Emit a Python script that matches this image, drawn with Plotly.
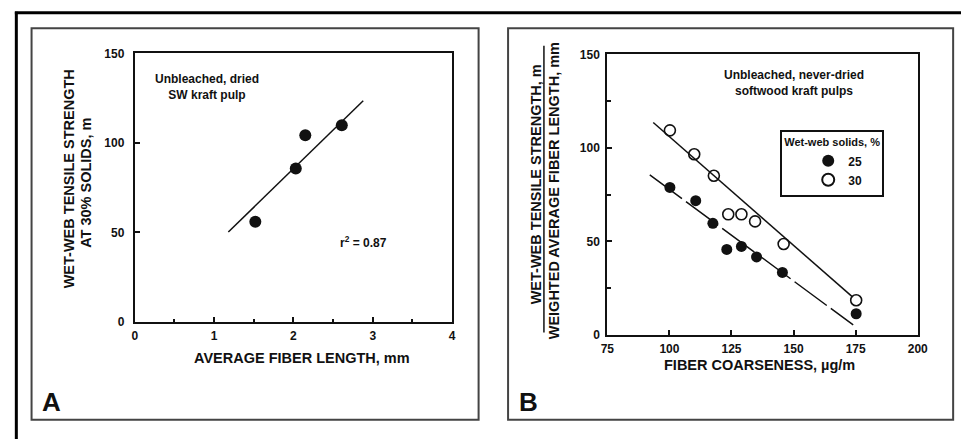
import plotly.graph_objects as go

# ---- Panel A: wet-web tensile strength vs. average fiber length ----
a_fiber_length = [1.52, 2.03, 2.15, 2.61]
a_tensile = [55.9, 85.7, 104.3, 109.9]
a_fit_x = [1.18, 2.88]
a_fit_y = [50.2, 123.6]

# ---- Panel B: normalized wet-web tensile vs. fiber coarseness ----
b_coarse_25 = [100.2, 110.6, 117.5, 123.1, 129.0, 135.1, 145.5, 175.2]
b_tensile_25 = [78.9, 71.8, 59.7, 45.7, 47.3, 41.7, 33.4, 11.3]
b_coarse_30 = [100.2, 110.0, 117.9, 123.7, 129.0, 134.5, 146.0, 175.2]
b_tensile_30 = [109.4, 96.6, 85.1, 64.5, 64.5, 60.7, 48.6, 18.5]
b_fit25_x = [92.1, 174.0]
b_fit25_y = [85.6, 5.3]
b_fit30_x = [93.5, 173.7]
b_fit30_y = [113.6, 20.3]

a_xticks = [0, 1, 2, 3, 4]
a_yticks = [0, 50, 100, 150]
b_xticks = [75, 100, 125, 150, 175, 200]
b_yticks = [0, 50, 100, 150]

W, H = 971, 446
FONT = "Liberation Sans, Arial, Helvetica, sans-serif"
INK = "#111111"


def px(x):
    return x / W


def py(y):
    return 1 - y / H


fig = go.Figure()

# Panel A
fig.add_trace(go.Scatter(x=a_fit_x, y=a_fit_y, mode="lines",
                         line=dict(color=INK, width=1.5),
                         xaxis="x", yaxis="y", showlegend=False, hoverinfo="skip"))
fig.add_trace(go.Scatter(x=a_fiber_length, y=a_tensile, mode="markers",
                         marker=dict(symbol="circle", size=12, color=INK),
                         xaxis="x", yaxis="y", showlegend=False))

# Panel B
fig.add_trace(go.Scatter(x=b_fit30_x, y=b_fit30_y, mode="lines",
                         line=dict(color=INK, width=1.5),
                         xaxis="x2", yaxis="y2", showlegend=False, hoverinfo="skip"))
fig.add_trace(go.Scatter(x=b_fit25_x, y=b_fit25_y, mode="lines",
                         line=dict(color=INK, width=1.5, dash="40px,5px"),
                         xaxis="x2", yaxis="y2", showlegend=False, hoverinfo="skip"))
fig.add_trace(go.Scatter(x=b_coarse_25, y=b_tensile_25, mode="markers", name="25",
                         marker=dict(symbol="circle", size=11, color=INK),
                         xaxis="x2", yaxis="y2"))
fig.add_trace(go.Scatter(x=b_coarse_30, y=b_tensile_30, mode="markers", name="30",
                         marker=dict(symbol="circle-open", size=11, color=INK,
                                     line=dict(width=1.6, color=INK)),
                         xaxis="x2", yaxis="y2"))

tickfont = dict(family=FONT, size=12, color=INK, weight="bold")
axis_common = dict(showline=True, linecolor=INK, linewidth=2, mirror=True,
                   showgrid=False, zeroline=False, ticks="inside",
                   tickcolor=INK, tickwidth=1.5, ticklen=5, tickfont=tickfont)

fig.update_layout(
    width=W, height=H, autosize=False,
    margin=dict(l=0, r=0, t=0, b=0),
    paper_bgcolor="white", plot_bgcolor="white",
    xaxis=dict(domain=[px(130), px(453)], range=[0, 4], anchor="y",
               tickmode="array", tickvals=a_xticks, ticklabelstandoff=2,
               minor=dict(dtick=0.5, ticks="inside", ticklen=3, tickcolor=INK, tickwidth=1.5),
               **axis_common),
    yaxis=dict(domain=[py(325), py(48)], range=[0, 150], anchor="x",
               tickmode="array", tickvals=a_yticks, ticklabelstandoff=6,
               **axis_common),
    xaxis2=dict(domain=[px(611), px(927)], range=[75, 200], anchor="y2",
                tickmode="array", tickvals=b_xticks, ticklabelstandoff=2,
                **axis_common),
    yaxis2=dict(domain=[py(338.5), py(49)], range=[0, 150], anchor="x2",
                tickmode="array", tickvals=b_yticks, ticklabelstandoff=3,
                minor=dict(dtick=25, ticks="inside", ticklen=4, tickcolor=INK, tickwidth=1.5),
                **axis_common),
    legend=dict(x=px(787), y=py(127), xanchor="left", yanchor="top",
                bgcolor="white", bordercolor=INK, borderwidth=2,
                font=dict(family=FONT, size=12, color=INK, weight="bold"),
                title=dict(text="Wet-web solids, %",
                           font=dict(family=FONT, size=11, color=INK, weight="bold")),
                indentation=26, tracegroupgap=0, itemsizing="constant"),
    font=dict(family=FONT, color=INK),
)

# Frames: outer border strokes and the two panel boxes
shapes = [
    dict(type="line", xref="paper", yref="paper", x0=px(8), x1=px(971), y0=py(6), y1=py(6),
         line=dict(color="black", width=3)),
    dict(type="line", xref="paper", yref="paper", x0=px(9.5), x1=px(9.5), y0=py(5), y1=py(446),
         line=dict(color="black", width=3)),
    dict(type="rect", xref="paper", yref="paper", x0=px(25), x1=px(480), y0=py(22), y1=py(426),
         line=dict(color="#444444", width=2)),
    dict(type="rect", xref="paper", yref="paper", x0=px(510), x1=px(963), y0=py(22), y1=py(426),
         line=dict(color="#444444", width=2)),
    # fraction bar of panel B's y-axis title
    dict(type="line", xref="paper", yref="paper", x0=px(546.5), x1=px(546.5), y0=py(40), y1=py(336),
         line=dict(color=INK, width=1.5)),
]
fig.update_layout(shapes=shapes)

title_font = dict(family=FONT, size=14.5, color=INK, weight="bold")
text_font = dict(family=FONT, size=12, color=INK, weight="bold")


def note(text, x, y, font, xref="paper", yref="paper", angle=0, **kw):
    fig.add_annotation(text=text, x=x, y=y, xref=xref, yref=yref, showarrow=False,
                       font=font, textangle=angle, xanchor="center", yanchor="middle", **kw)


# Panel A text
note("WET-WEB TENSILE STRENGTH", px(64), py(177), title_font, angle=-90)
note("AT 30% SOLIDS, m", px(81), py(182), title_font, angle=-90)
note("AVERAGE FIBER LENGTH, mm", px(300), py(362), title_font)
note("Unbleached, dried<br>SW kraft pulp", 0.916, 131, text_font, xref="x", yref="y")
note("r<sup>2</sup> = 0.87", 2.885, 44.4, text_font, xref="x", yref="y")
note("A", px(45), py(408), dict(family=FONT, size=26, color=INK, weight="bold"))

# Panel B text
note("WET-WEB TENSILE STRENGTH, m", px(538.5), py(183), title_font, angle=-90)
note("WEIGHTED AVERAGE FIBER LENGTH, mm", px(557), py(190), title_font, angle=-90)
note("FIBER COARSENESS, µg/m", px(766), py(370), title_font)
note("Unbleached, never-dried<br>softwood kraft pulps", 150.2, 134.8, text_font,
     xref="x2", yref="y2")
note("B", px(531), py(408), dict(family=FONT, size=26, color=INK, weight="bold"))

fig.write_html("out.html")
